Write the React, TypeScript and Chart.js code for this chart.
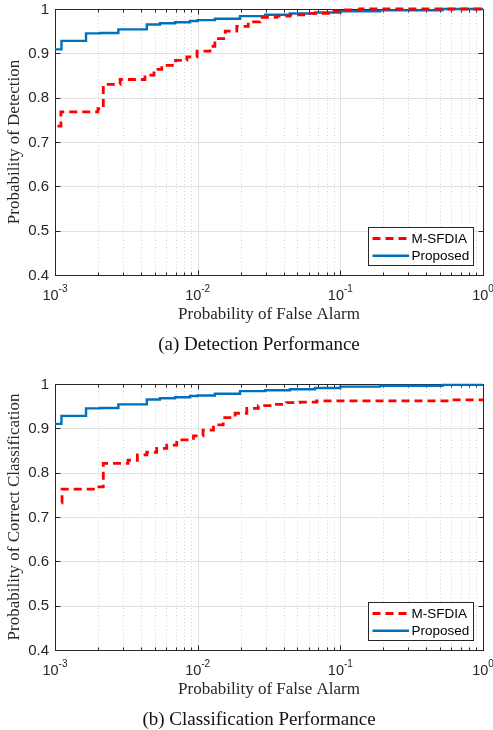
import React, { useEffect, useRef } from "react";
import { Chart, registerables } from "chart.js";

Chart.register(...registerables);

// ---- data ----
// Proposed detector: (false-alarm probability, detection probability) step points
const proposedDetPfa = [1e-3, 1.11e-3, 1.65e-3, 2.07e-3, 2.78e-3, 4.4e-3, 5.44e-3, 6.94e-3, 8.83e-3, 1.0e-2, 0.0132, 0.0198, 0.0297, 0.0444, 0.0664, 0.1, 0.19, 0.52, 1];
const proposedDetPd = [0.909, 0.928, 0.945, 0.946, 0.954, 0.965, 0.968, 0.97, 0.973, 0.975, 0.978, 0.984, 0.987, 0.99, 0.992, 0.995, 0.997, 1.0, 1.0];

// M-SFDIA detector
const msfdiaDetPfa = [1.04e-3, 1.1e-3, 2.0e-3, 2.18e-3, 2.86e-3, 4.27e-3, 4.94e-3, 5.6e-3, 7.0e-3, 8.4e-3, 9.9e-3, 0.0122, 0.0132, 0.0156, 0.0188, 0.0226, 0.0274, 0.0358, 0.0444, 0.058, 0.0847, 0.1, 0.137, 1];
const msfdiaDetPd = [0.736, 0.768, 0.775, 0.83, 0.841, 0.851, 0.864, 0.873, 0.884, 0.892, 0.905, 0.916, 0.933, 0.95, 0.961, 0.971, 0.981, 0.984, 0.987, 0.99, 0.995, 0.998, 1.0, 1.0];

// Proposed classifier: (false-alarm probability, correct-classification probability)
const proposedClsPfa = [1e-3, 1.11e-3, 1.65e-3, 2.07e-3, 2.78e-3, 4.4e-3, 5.44e-3, 6.94e-3, 8.83e-3, 1.0e-2, 0.0132, 0.0198, 0.0297, 0.0444, 0.0664, 0.1, 0.19, 0.52, 1];
const proposedClsPd = [0.91, 0.928, 0.945, 0.946, 0.954, 0.965, 0.968, 0.97, 0.973, 0.974, 0.978, 0.984, 0.986, 0.988, 0.991, 0.994, 0.996, 0.998, 0.998];

// M-SFDIA classifier
const msfdiaClsPfa = [1.11e-3, 1.12e-3, 1.91e-3, 2.18e-3, 3.25e-3, 3.78e-3, 4.4e-3, 5.16e-3, 6.07e-3, 7.13e-3, 9.35e-3, 0.0109, 0.0129, 0.0151, 0.0183, 0.0221, 0.0266, 0.0339, 0.042, 0.0521, 0.0682, 0.587, 1];
const msfdiaClsPd = [0.732, 0.763, 0.768, 0.821, 0.828, 0.84, 0.846, 0.855, 0.862, 0.874, 0.883, 0.896, 0.908, 0.924, 0.934, 0.945, 0.951, 0.954, 0.958, 0.959, 0.962, 0.964, 0.964];

// Axis ticks
const yTickValues = [0.4, 0.5, 0.6, 0.7, 0.8, 0.9, 1];
const xDecadeExponents = [-3, -2, -1, 0];
const xMinorMultipliers = [2, 3, 4, 5, 6, 7, 8, 9];

const seriesNames = ["M-SFDIA", "Proposed"];
const RED = "#ff0000";
const BLUE = "#0072bd";
const AXIS = "#262626";
const SANS = '"Liberation Sans", Arial, Helvetica, sans-serif';
const SERIF = '"Liberation Serif", "Times New Roman", serif';
const RED_W = 2.8;
const BLUE_W = 2.4;
const RED_DASH = [8, 5];

type PanelProps = {
  yTitle: string;
  xTitle: string;
  caption: string;
  redPfa: number[];
  redPd: number[];
  bluePfa: number[];
  bluePd: number[];
  padTop: number;
  padBottom: number;
};

const W = 493;
const H = 365;

function makeFramePlugin(p: PanelProps) {
  return {
    id: "matlabFrame",
    beforeDatasetsDraw(chart: any) {
      const { ctx, chartArea } = chart;
      const { left, right, top, bottom } = chartArea;
      const xs = chart.scales.x;
      const ys = chart.scales.y;
      const snap = (v: number) => Math.round(v) + 0.5;
      ctx.save();

      // minor x grid (dotted)
      ctx.strokeStyle = "#d2d2d2";
      ctx.lineWidth = 1;
      ctx.setLineDash([1, 2.5]);
      for (const e of xDecadeExponents.slice(0, -1)) {
        for (const m of xMinorMultipliers) {
          const px = snap(xs.getPixelForValue(m * Math.pow(10, e)));
          ctx.beginPath();
          ctx.moveTo(px, top);
          ctx.lineTo(px, bottom);
          ctx.stroke();
        }
      }
      ctx.setLineDash([]);

      // major grid
      ctx.strokeStyle = "#e1e1e1";
      for (const e of xDecadeExponents.slice(1, -1)) {
        const px = snap(xs.getPixelForValue(Math.pow(10, e)));
        ctx.beginPath();
        ctx.moveTo(px, top);
        ctx.lineTo(px, bottom);
        ctx.stroke();
      }
      for (const v of yTickValues.slice(1, -1)) {
        const py = snap(ys.getPixelForValue(v));
        ctx.beginPath();
        ctx.moveTo(left, py);
        ctx.lineTo(right, py);
        ctx.stroke();
      }

      // axes box
      ctx.strokeStyle = AXIS;
      ctx.lineWidth = 1;
      const l = snap(left), r = snap(right), t = snap(top), b = snap(bottom);
      ctx.strokeRect(l, t, r - l, b - t);

      // inner tick marks
      ctx.beginPath();
      for (const e of xDecadeExponents) {
        const px = snap(xs.getPixelForValue(Math.pow(10, e)));
        ctx.moveTo(px, b); ctx.lineTo(px, b - 5);
        ctx.moveTo(px, t); ctx.lineTo(px, t + 5);
        if (e < 0) {
          for (const m of xMinorMultipliers) {
            const mx = snap(xs.getPixelForValue(m * Math.pow(10, e)));
            ctx.moveTo(mx, b); ctx.lineTo(mx, b - 3);
            ctx.moveTo(mx, t); ctx.lineTo(mx, t + 3);
          }
        }
      }
      for (const v of yTickValues) {
        const py = snap(ys.getPixelForValue(v));
        ctx.moveTo(l, py); ctx.lineTo(l + 5, py);
        ctx.moveTo(r, py); ctx.lineTo(r - 5, py);
      }
      ctx.stroke();

      // y tick labels
      ctx.fillStyle = AXIS;
      ctx.font = `15px ${SANS}`;
      ctx.textAlign = "right";
      ctx.textBaseline = "middle";
      for (const v of yTickValues) {
        const py = ys.getPixelForValue(v);
        ctx.fillText(v === 1 ? "1" : v.toFixed(1), left - 6, py + 0.5);
      }

      // x tick labels: 10^e
      ctx.textBaseline = "alphabetic";
      ctx.textAlign = "left";
      for (const e of xDecadeExponents) {
        const cx = xs.getPixelForValue(Math.pow(10, e));
        const base = "10";
        const exp = String(e);
        ctx.font = `14.5px ${SANS}`;
        const wb = ctx.measureText(base).width;
        ctx.font = `10px ${SANS}`;
        const we = ctx.measureText(exp).width;
        const start = cx - (wb + we) / 2;
        ctx.font = `14.5px ${SANS}`;
        ctx.fillText(base, start, bottom + 25);
        ctx.font = `10px ${SANS}`;
        ctx.fillText(exp, start + wb, bottom + 16.5);
      }

      // axis titles
      ctx.font = `17px ${SERIF}`;
      ctx.textAlign = "center";
      ctx.fillText(p.xTitle, (left + right) / 2, bottom + 43.5);
      ctx.save();
      ctx.translate(19, (top + bottom) / 2);
      ctx.rotate(-Math.PI / 2);
      ctx.fillText(p.yTitle, 0, 0);
      ctx.restore();

      // caption
      ctx.fillStyle = "#111";
      ctx.font = `19px ${SERIF}`;
      ctx.fillText(p.caption, 259, bottom + 74.5);
      ctx.restore();
    },
    afterDatasetsDraw(chart: any) {
      const { ctx, chartArea } = chart;
      const { right, bottom } = chartArea;
      ctx.save();
      const bx = Math.round(right - 115.3) + 0.5;
      const by = Math.round(bottom - 48.3) + 0.5;
      const bw = 104.6;
      const bh = 38.3;
      ctx.fillStyle = "#ffffff";
      ctx.fillRect(bx, by, bw, bh);
      ctx.strokeStyle = AXIS;
      ctx.lineWidth = 1;
      ctx.strokeRect(bx, by, Math.round(bw), Math.round(bh));
      const rows = [
        { name: seriesNames[0], color: RED, dash: RED_DASH, width: RED_W, dy: 11 },
        { name: seriesNames[1], color: BLUE, dash: [] as number[], width: BLUE_W, dy: 28.3 },
      ];
      for (const row of rows) {
        const y = by + row.dy;
        ctx.strokeStyle = row.color;
        ctx.lineWidth = row.width;
        ctx.setLineDash(row.dash);
        ctx.beginPath();
        ctx.moveTo(bx + 4, y);
        ctx.lineTo(bx + 40.6, y);
        ctx.stroke();
        ctx.setLineDash([]);
        ctx.fillStyle = "#000";
        ctx.font = `13.5px ${SANS}`;
        ctx.textAlign = "left";
        ctx.textBaseline = "middle";
        ctx.fillText(row.name, bx + 43, y + 0.5);
      }
      ctx.restore();
    },
  };
}

function RocPanel(p: PanelProps) {
  const ref = useRef<HTMLCanvasElement>(null);
  useEffect(() => {
    if (!ref.current) return;
    const chart = new Chart(ref.current, {
      type: "line",
      data: {
        datasets: [
          {
            label: seriesNames[0],
            data: p.redPfa.map((v, i) => ({ x: v, y: p.redPd[i] })),
            borderColor: RED,
            borderWidth: RED_W,
            borderDash: RED_DASH,
            stepped: true,
            pointRadius: 0,
            fill: false,
            clip: 4,
          },
          {
            label: seriesNames[1],
            data: p.bluePfa.map((v, i) => ({ x: v, y: p.bluePd[i] })),
            borderColor: BLUE,
            borderWidth: BLUE_W,
            stepped: true,
            pointRadius: 0,
            fill: false,
            clip: 4,
          },
        ],
      },
      options: {
        responsive: false,
        animation: false,
        devicePixelRatio: 1,
        events: [],
        layout: { padding: { left: 55, right: 10, top: p.padTop, bottom: p.padBottom } },
        scales: {
          x: { type: "logarithmic", min: 1e-3, max: 1, display: false },
          y: { type: "linear", min: 0.4, max: 1, display: false },
        },
        plugins: { legend: { display: false }, tooltip: { enabled: false } },
      },
      plugins: [makeFramePlugin(p)],
    } as any);
    return () => chart.destroy();
  }, []);
  return (
    <div style={{ width: W, height: H }}>
      <canvas ref={ref} width={W} height={H} style={{ display: "block" }} />
    </div>
  );
}

export default function App() {
  return (
    <div style={{ position: "absolute", left: 0, top: 0, width: W, height: 730, background: "#fff" }}>
      <RocPanel
        yTitle="Probability of Detection"
        xTitle="Probability of False Alarm"
        caption="(a) Detection Performance"
        redPfa={msfdiaDetPfa}
        redPd={msfdiaDetPd}
        bluePfa={proposedDetPfa}
        bluePd={proposedDetPd}
        padTop={9}
        padBottom={90}
      />
      <RocPanel
        yTitle="Probability of Correct Classification"
        xTitle="Probability of False Alarm"
        caption="(b) Classification Performance"
        redPfa={msfdiaClsPfa}
        redPd={msfdiaClsPd}
        bluePfa={proposedClsPfa}
        bluePd={proposedClsPd}
        padTop={19}
        padBottom={80}
      />
    </div>
  );
}
